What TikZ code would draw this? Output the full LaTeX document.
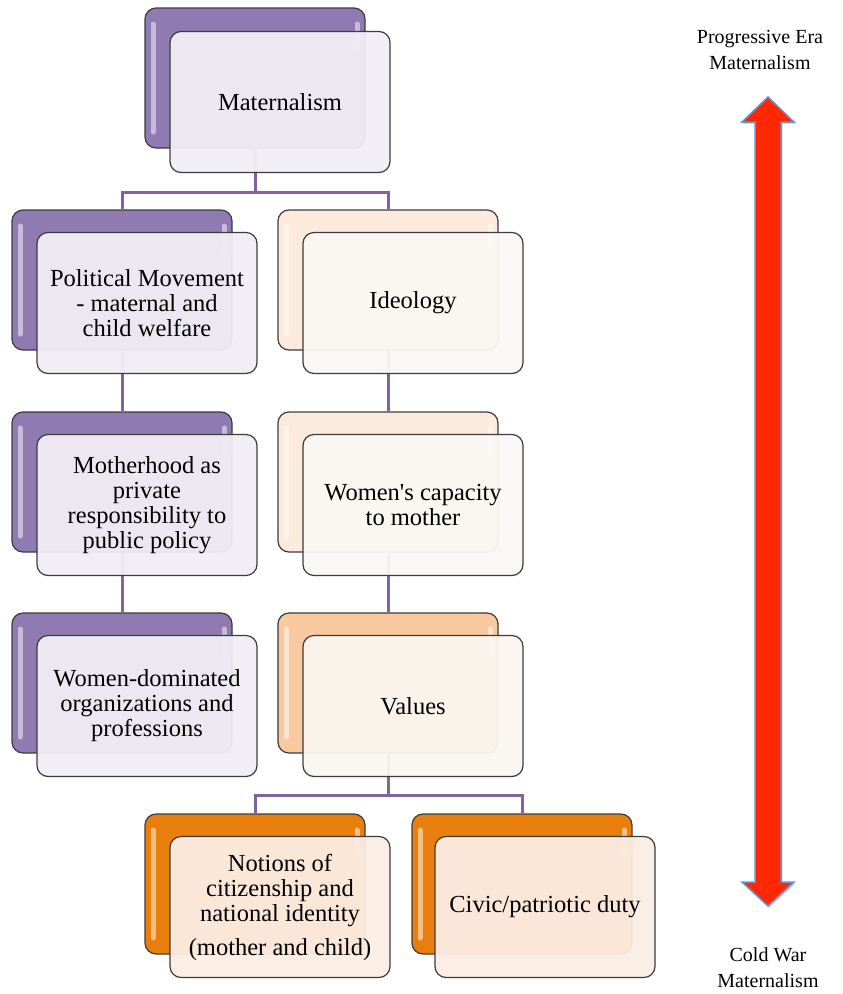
\documentclass[tikz,border=0pt]{standalone}
\usepackage{fontspec}
\setmainfont{Liberation Serif}
\usetikzlibrary{calc, positioning, backgrounds, shadows}
\definecolor{purpleback}{RGB}{143,122,178}
\definecolor{purplefront}{RGB}{241,237,245}
\definecolor{peachback}{RGB}{252,234,220}
\definecolor{peachfront}{RGB}{250,248,245}
\definecolor{apricotback}{RGB}{249,202,160}
\definecolor{apricotfront}{RGB}{250,246,241}
\definecolor{orangeback}{RGB}{232,127,12}
\definecolor{orangefront}{RGB}{251,237,227}
\definecolor{linkpurple}{RGB}{128,100,162}
\definecolor{arrowred}{RGB}{255,40,0}
\definecolor{arrowedge}{RGB}{100,150,210}
\definecolor{boxedge}{RGB}{60,60,60}

\begin{document}
\begin{tikzpicture}[x=1pt, y=-1pt,
  backbox/.style={rectangle, draw=boxedge, line width=1.2pt, rounded corners=11pt, minimum width=220pt, minimum height=140pt, inner sep=0pt,
    path picture={
      \draw[white, line width=5pt, line cap=round, opacity=0.5] ([xshift=8pt,yshift=-16pt]path picture bounding box.north west) -- ([xshift=8pt,yshift=16pt]path picture bounding box.south west);
      \draw[white, line width=5pt, line cap=round, opacity=0.5] ([xshift=-8pt,yshift=-16pt]path picture bounding box.north east) -- ([xshift=-8pt,yshift=-40pt]path picture bounding box.north east);}},
  frontbox/.style={rectangle, draw=boxedge, line width=1.2pt, rounded corners=11pt, minimum width=220pt, minimum height=141pt, inner sep=4pt,
    align=center, fill opacity=0.95, text opacity=1, font=\fontsize{24.5}{25}\selectfont},
  link/.style={draw=linkpurple, line width=3pt},
  bigarrow/.style={fill=arrowred, draw=arrowedge, line width=1.5pt, line join=miter, drop shadow={opacity=0.3, shadow xshift=1.5pt, shadow yshift=-2pt}},
  sidenote/.style={align=center, font=\fontsize{20}{26}\selectfont}
]
\useasboundingbox (0,0) rectangle (843,994);

% --- Wurzel ---
\node[backbox, fill=purpleback] (matb) at (255,78) {};
\node[frontbox, fill=purplefront] (mat) at ($(matb)+(25,24)$) {Maternalism};

% --- linke Spalte ---
\node[backbox, fill=purpleback] (polb) at (122,280) {};
\node[frontbox, fill=purplefront] (pol) at ($(polb)+(25,23)$) {Political Movement\\- maternal and\\child welfare};
\node[backbox, fill=purpleback] (mothb) at (122,482) {};
\node[frontbox, fill=purplefront] (moth) at ($(mothb)+(25,23)$) {Motherhood as\\private\\responsibility to\\public policy};
\node[backbox, fill=purpleback] (orgb) at (122,683) {};
\node[frontbox, fill=purplefront] (org) at ($(orgb)+(25,23)$) {Women-dominated\\organizations and\\professions};

% --- rechte Spalte ---
\node[backbox, fill=peachback] (ideob) at (388,280) {};
\node[frontbox, fill=peachfront] (ideo) at ($(ideob)+(25,23)$) {Ideology};
\node[backbox, fill=peachback] (capb) at (388,482) {};
\node[frontbox, fill=peachfront] (cap) at ($(capb)+(25,23)$) {Women\textquotesingle s capacity\\to mother};
\node[backbox, fill=apricotback] (valb) at (388,683) {};
\node[frontbox, fill=apricotfront] (val) at ($(valb)+(25,23)$) {Values};

% --- unterste Ebene ---
\node[backbox, fill=orangeback] (citb) at (255,884) {};
\node[frontbox, fill=orangefront] (cit) at ($(citb)+(25,23)$) {Notions of\\citizenship and\\national identity\\[9pt](mother and child)};
\node[backbox, fill=orangeback] (civb) at (522,884) {};
\node[frontbox, fill=orangefront] (civ) at ($(civb)+(23,23)$) {Civic/patriotic duty};

% Verzweigungspunkte
\coordinate (jtop) at (255,192);
\coordinate (jval) at (388,795);

% Verbindungen
\begin{scope}[on background layer]
\draw[link] (matb.south) -- (jtop);
\draw[link] (jtop) -| (polb.north);
\draw[link] (jtop) -| (ideob.north);
\draw[link] (polb.south) -- (mothb.north);
\draw[link] (mothb.south) -- (orgb.north);
\draw[link] (ideob.south) -- (capb.north);
\draw[link] (capb.south) -- (valb.north);
\draw[link] (valb.south) -- (jval);
\draw[link] (jval) -| (citb.north);
\draw[link] (jval) -| (civb.north);
\end{scope}

% --- Zeitachse ---
\node[sidenote] (progera) at (760,50) {Progressive Era\\Maternalism};
\node[sidenote] (coldwar) at (768,968) {Cold War\\Maternalism};
\draw[bigarrow] (768,97) -- (794,122) -- (781,122) -- (781,882) -- (794,882) -- (768,906)
  -- (742,882) -- (755,882) -- (755,122) -- (742,122) -- cycle;
\end{tikzpicture}
\end{document}
